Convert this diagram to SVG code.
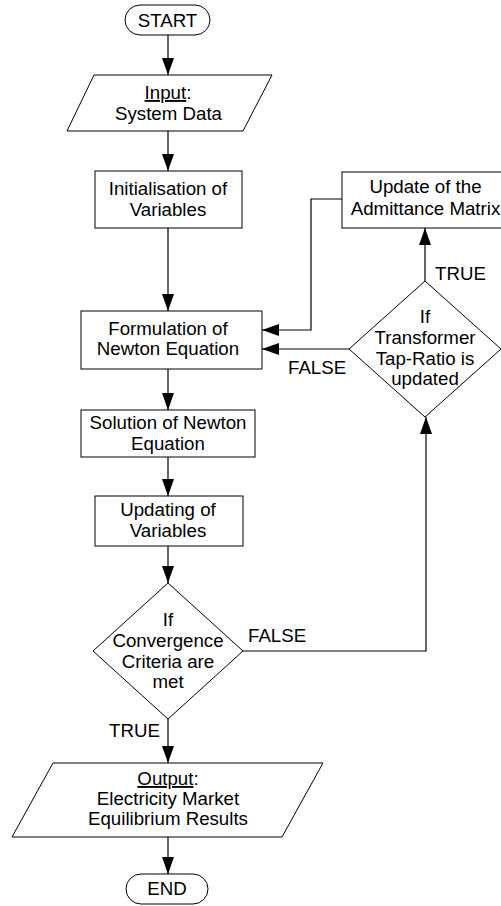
<svg xmlns="http://www.w3.org/2000/svg" width="501" height="906" viewBox="0 0 501 906">
<style>
  .shape { fill: #ffffff; stroke: #000000; stroke-width: 1; }
  .conn { fill: none; stroke: #000000; stroke-width: 1.2; }
  text { font-family: "Liberation Sans", Arial, sans-serif; font-size: 18.7px; fill: #000000; text-anchor: middle; }
  .lbl { text-anchor: start; }
</style>
<defs>
  <marker id="arrow" markerUnits="userSpaceOnUse" markerWidth="17" markerHeight="12" refX="17" refY="6" orient="auto">
    <path d="M0,0 L17,6 L0,12 z" fill="#000000"/>
  </marker>
</defs>
<rect x="0" y="0" width="501" height="906" fill="#ffffff"/>

<g id="connectors">
  <path class="conn" d="M168,35 V75" marker-end="url(#arrow)"/>
  <path class="conn" d="M168,131 V171" marker-end="url(#arrow)"/>
  <path class="conn" d="M168,228 V311" marker-end="url(#arrow)"/>
  <path class="conn" d="M168,369 V410" marker-end="url(#arrow)"/>
  <path class="conn" d="M168,457 V496" marker-end="url(#arrow)"/>
  <path class="conn" d="M168,546 V583" marker-end="url(#arrow)"/>
  <path class="conn" d="M168,719 V763" marker-end="url(#arrow)"/>
  <path class="conn" d="M168,837 V874" marker-end="url(#arrow)"/>
  <path class="conn" d="M243,651 H426 V417" marker-end="url(#arrow)"/>
  <path class="conn" d="M425,281 V228" marker-end="url(#arrow)"/>
  <path class="conn" d="M349,349 H262" marker-end="url(#arrow)"/>
  <path class="conn" d="M342,199 H311 V330 H262" marker-end="url(#arrow)"/>
  <text class="lbl" x="288" y="374">FALSE</text>
  <text class="lbl" x="435" y="280">TRUE</text>
  <text class="lbl" x="248" y="642">FALSE</text>
  <text class="lbl" x="109" y="737">TRUE</text>
</g>

<g id="start">
  <rect class="shape" x="125" y="5" width="85" height="30" rx="15" ry="15"/>
  <text x="167.5" y="27">START</text>
</g>

<g id="input">
  <polygon class="shape" points="94,75 272,75 243,131 67,131"/>
  <text x="168" y="99"><tspan text-decoration="underline">Input</tspan>:</text>
  <text x="168.5" y="120">System Data</text>
</g>

<g id="init">
  <rect class="shape" x="95" y="171" width="147" height="57"/>
  <text x="168" y="195">Initialisation of</text>
  <text x="168" y="216">Variables</text>
</g>

<g id="formulation">
  <rect class="shape" x="81" y="311" width="181" height="58"/>
  <text x="168" y="335">Formulation of</text>
  <text x="168" y="355">Newton Equation</text>
</g>

<g id="solution">
  <rect class="shape" x="81" y="410" width="174" height="47"/>
  <text x="168" y="429">Solution of Newton</text>
  <text x="168" y="450">Equation</text>
</g>

<g id="updating">
  <rect class="shape" x="95" y="496" width="148" height="50"/>
  <text x="168" y="516">Updating of</text>
  <text x="168" y="537">Variables</text>
</g>

<g id="convergence">
  <polygon class="shape" points="168,583 243,651 168,719 93,651"/>
  <text x="168" y="626">If</text>
  <text x="168" y="647">Convergence</text>
  <text x="168" y="668">Criteria are</text>
  <text x="168" y="688">met</text>
</g>

<g id="output">
  <polygon class="shape" points="53,763 323,763 282,837 12,837"/>
  <text x="168" y="785"><tspan text-decoration="underline">Output</tspan>:</text>
  <text x="168" y="805">Electricity Market</text>
  <text x="168" y="825">Equilibrium Results</text>
</g>

<g id="end">
  <rect class="shape" x="126" y="874" width="82" height="30" rx="15" ry="15"/>
  <text x="167" y="895">END</text>
</g>

<g id="transformer">
  <polygon class="shape" points="425,281 501,349 425,417 349,349"/>
  <text x="425" y="323">If</text>
  <text x="425" y="344">Transformer</text>
  <text x="425" y="365">Tap-Ratio is</text>
  <text x="425" y="385">updated</text>
</g>

<g id="admittance">
  <rect class="shape" x="342" y="172" width="166" height="56"/>
  <text x="425.5" y="193">Update of the</text>
  <text x="425.5" y="215">Admittance Matrix</text>
</g>
</svg>
